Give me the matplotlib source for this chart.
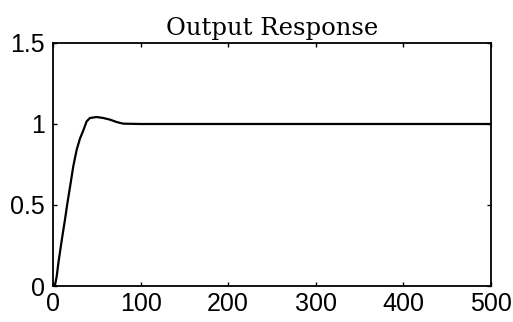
import matplotlib.pyplot as plt

# step response
t = [0, 2.3, 4.2, 6.1, 9.9, 13.7, 16.4, 19.4, 23.2, 27, 30.8, 34.6, 38.4, 42.2,
     49.9, 57.4, 65, 72.7, 80.3, 100, 200, 300, 400, 500]
y = [0, 0.006, 0.058, 0.14, 0.28, 0.41, 0.51, 0.61, 0.74, 0.84, 0.91, 0.96, 1.016, 1.037,
     1.043, 1.037, 1.027, 1.012, 1.002, 1.0, 1.0, 1.0, 1.0, 1.0]
xticks = [0, 100, 200, 300, 400, 500]
yticks = [0, 0.5, 1, 1.5]
ytick_labels = ['0', '0.5', '1', '1.5']

fig = plt.figure(figsize=(5.13, 3.22), dpi=100)
ax = fig.add_axes([0.1033, 0.1118, 0.8537, 0.7547])

ax.plot(t, y, color='black', lw=1.6)

ax.set_xlim(0, 500)
ax.set_ylim(0, 1.5)
ax.set_xticks(xticks)
ax.set_yticks(yticks)
ax.set_yticklabels(ytick_labels)
ax.tick_params(direction='in', length=3, width=1, top=True, right=True,
               labelsize=18)
ax.tick_params(axis='y', pad=6)
ax.tick_params(axis='x', pad=4)
for lab in ax.get_xticklabels() + ax.get_yticklabels():
    lab.set_fontfamily('Liberation Sans')
for s in ax.spines.values():
    s.set_linewidth(1.3)

ax.set_title('Output Response', family='DejaVu Serif', fontsize=17.5, pad=6)

fig.savefig('out.png', dpi=100)
